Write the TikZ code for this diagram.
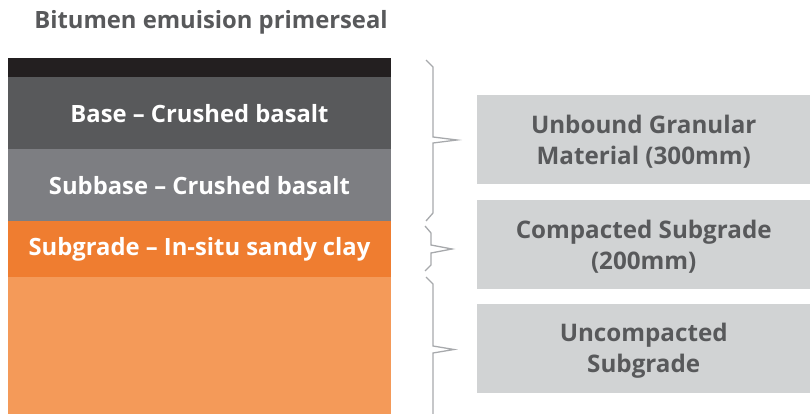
\documentclass[tikz,border=0pt]{standalone}
\usepackage{fontspec}
\setmainfont{Open Sans}
\definecolor{txtgray}{HTML}{58595B}
\definecolor{topblack}{HTML}{231F20}
\definecolor{basegray}{HTML}{58595B}
\definecolor{subbasegray}{HTML}{7D7E82}
\definecolor{subgradeor}{HTML}{EF7D30}
\definecolor{lightor}{HTML}{F49A59}
\definecolor{boxgray}{HTML}{D1D3D4}
\definecolor{bracegray}{HTML}{A7A9AC}
\tikzset{
  layerlabel/.style={text=white, font=\bfseries\fontsize{23.8}{28}\selectfont},
  infobox/.style={fill=boxgray, draw=none, inner sep=0pt, minimum width=333pt, minimum height=89pt, anchor=north west},
  infotext/.style={text=txtgray, align=center, inner sep=0pt, yshift=-2.5pt, font=\bfseries\fontsize{24.2}{31}\selectfont},
  bracel/.style={draw=bracegray, line width=1.3pt, line join=miter}
}
\begin{document}
\begin{tikzpicture}[x=1pt,y=-1pt]
\useasboundingbox (0,0) rectangle (810,414);
\node[text=txtgray, font=\bfseries\fontsize{23.8}{28}\selectfont] (title) at (211,22) {Bitumen emuision primerseal};
\fill[topblack] (8,58) rectangle (391,77);
\fill[basegray] (8,77) rectangle (391,149);
\fill[subbasegray] (8,149) rectangle (391,221);
\fill[subgradeor] (8,221) rectangle (391,277);
\fill[lightor] (8,277) rectangle (391,414);
\node[layerlabel] (base) at (199.5,113.5) {Base – Crushed basalt};
\node[layerlabel] (subbase) at (199.5,185.5) {Subbase – Crushed basalt};
\node[layerlabel] (subgrade) at (199.5,249.5) {Subgrade – In-situ sandy clay};
\node[infobox] (b1) at (477,95) {};
\node[infobox] (b2) at (477,200) {};
\node[infobox] (b3) at (477,304) {};
\node[infotext] (t1) at (b1.center) {Unbound Granular\\Material (300mm)};
\node[infotext] (t2) at (b2.center) {Compacted Subgrade\\(200mm)};
\node[infotext] (t3) at (b3.center) {Uncompacted\\Subgrade};
\draw[bracel] (426,60) -- (433,67) -- (433,137) -- (457,140) -- (433,143) -- (433,213) -- (426,221);
\draw[bracel] (425,226) -- (431,233) -- (431,245) -- (452,249) -- (431,253) -- (431,265) -- (425,271);
\draw[bracel] (426,277) -- (433,284) -- (433,346) -- (454,349.5) -- (433,353) -- (433,414);
\end{tikzpicture}
\end{document}
